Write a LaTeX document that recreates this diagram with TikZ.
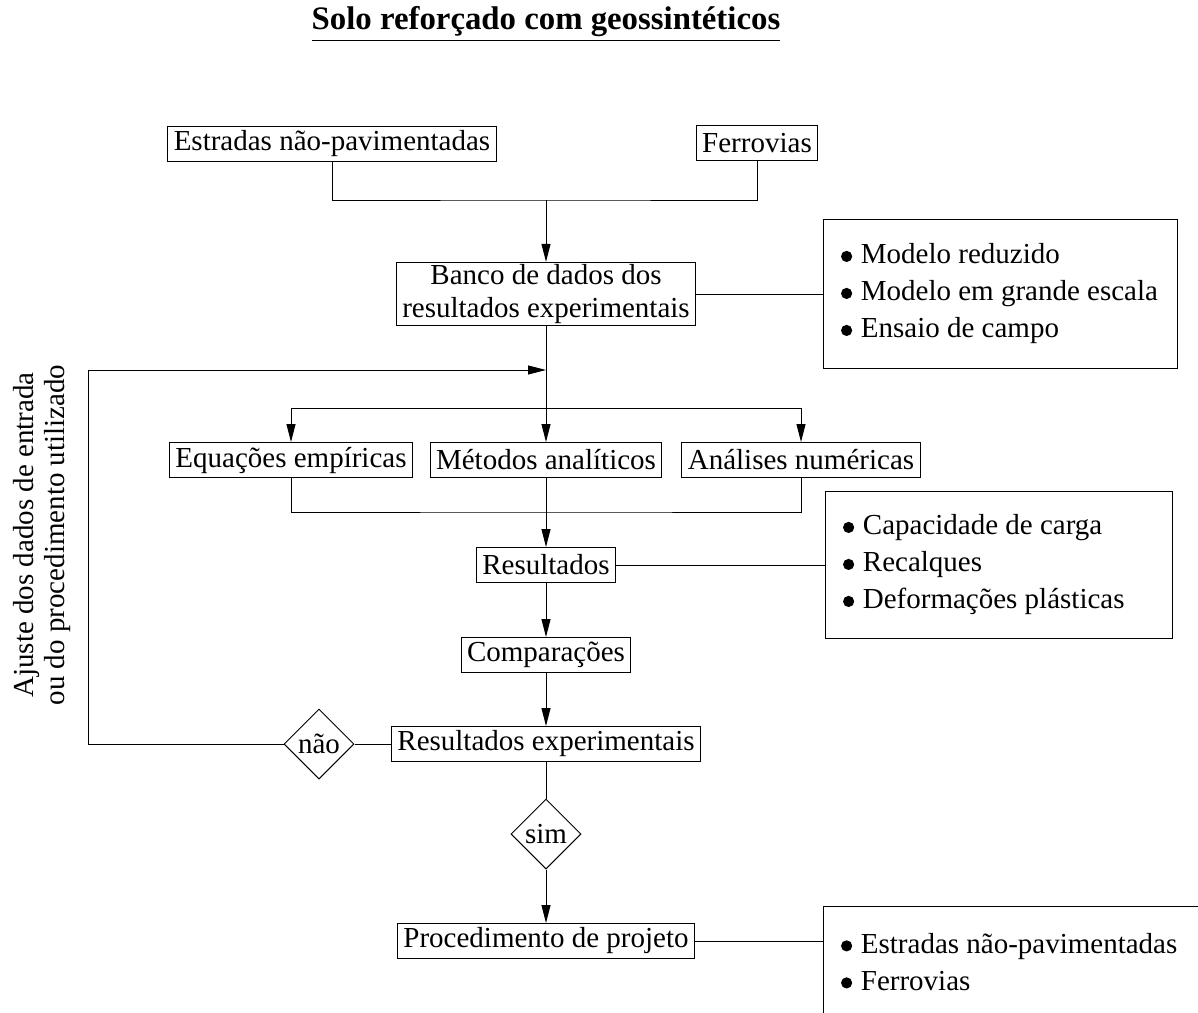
\documentclass[tikz,border=0pt]{standalone}
\usepackage{fontspec}
\setmainfont{Liberation Serif}
\usetikzlibrary{arrows.meta,shapes.geometric}
\newcommand{\marca}{\tikz[baseline=-0.26em]\fill (0,0) circle (2.8pt);\hspace{0.3em}}

\begin{document}
\begin{tikzpicture}[x=0.5pt,y=-0.5pt,>={Triangle[length=9pt,width=4.5pt]},line width=0.5pt,
    font=\fontsize{14.5}{16.5}\selectfont]
  \tikzstyle{box}=[draw,inner xsep=3pt,inner ysep=1pt,minimum height=17.5pt,align=center]
  \tikzstyle{list}=[draw,align=flush left,inner xsep=9pt,inner ysep=0pt,font=\fontsize{14.5}{18.5}\selectfont]
  \tikzstyle{choice}=[draw,diamond,minimum width=35pt,minimum height=35pt,inner sep=0pt]
  \useasboundingbox (0,0) rectangle (1198,1012);
  \clip (0,0) rectangle (1198,1012);

  \node[font=\fontsize{16.4}{18}\selectfont\bfseries] (title) at (546,24) {\underline{Solo reforçado com geossintéticos}};

  % aplicacoes
  \node[box] (estradas) at (332,144) {Estradas não-pavimentadas};
  \node[box] (ferrovias) at (757,143) {Ferrovias};

  % banco de dados
  \node[box] (banco) at (546,294) {Banco de dados dos\\resultados experimentais};
  \node[list,text width=159pt,minimum height=74.5pt] (ensaios) at (1000,294)
    {\marca Modelo reduzido\\\marca Modelo em grande escala\\\marca Ensaio de campo};

  % metodos
  \node[box] (equacoes) at (291,460) {Equações empíricas};
  \node[box] (metodos) at (546,460) {Métodos analíticos};
  \node[box] (analises) at (801,460) {Análises numéricas};

  \node[box] (resultados) at (546,565) {Resultados};
  \node[list,text width=155.5pt,minimum height=73.5pt] (saidas) at (998.5,565)
    {\marca Capacidade de carga\\\marca Recalques\\\marca Deformações plásticas};

  \node[box] (comparacoes) at (546,655) {Comparações};
  \node[box] (resexp) at (546,744) {Resultados experimentais};
  \node[choice] (nao) at (319,744) {não};
  \node[choice] (sim) at (546,834) {sim};

  \node[box] (projeto) at (546,941) {Procedimento de projeto};
  \node[list,text width=198pt,minimum height=56pt] (usos) at (1039,962)
    {\marca Estradas não-pavimentadas\\\marca Ferrovias};

  \node[rotate=90,align=center,font=\fontsize{14.5}{15.5}\selectfont] (ajuste) at (42,535)
    {Ajuste dos dados de entrada\\ou do procedimento utilizado};

  % ligacoes
  \coordinate (join1) at (546,200);
  \coordinate (merge) at (546,370);
  \coordinate (fork) at (546,408);
  \coordinate (join2) at (546,512);
  \coordinate (turn) at (88,744);

  \draw (estradas.south) |- (join1) -| (ferrovias.south);
  \draw[->] (join1) -- (banco.north);
  \draw (banco.east) -- (ensaios.west);
  \draw[->] (banco.south) -- (metodos.north);
  \draw[->] (fork) -| (equacoes.north);
  \draw[->] (fork) -| (analises.north);
  \draw (equacoes.south) |- (join2) -| (analises.south);
  \draw[->] (metodos.south) -- (resultados.north);
  \draw (resultados.east) -- (saidas.west);
  \draw[->] (resultados.south) -- (comparacoes.north);
  \draw[->] (comparacoes.south) -- (resexp.north);
  \draw (resexp.west) -- (nao.east);
  \draw[->] (nao.west) -- (turn) |- (merge);
  \draw (resexp.south) -- (sim.north);
  \draw[->] (sim.south) -- (projeto.north);
  \draw (projeto.east) -- (projeto.east -| usos.west);
\end{tikzpicture}
\end{document}
